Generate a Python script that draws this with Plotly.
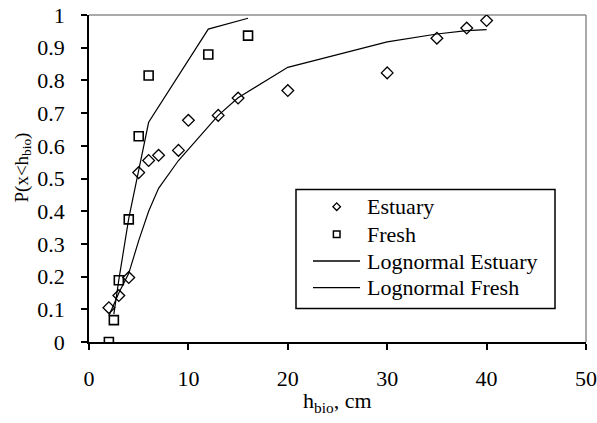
import plotly.graph_objects as go

# Observed data
est_x = [2, 3, 4, 5, 6, 7, 9, 10, 13, 15, 20, 30, 35, 38, 40]
est_y = [0.105, 0.142, 0.197, 0.518, 0.555, 0.571, 0.586, 0.678, 0.693, 0.746, 0.769, 0.823, 0.929, 0.960, 0.983]
fresh_x = [2, 2.5, 3, 4, 5, 6, 12, 16]
fresh_y = [0.0, 0.067, 0.189, 0.375, 0.629, 0.815, 0.879, 0.937]

# Fitted lognormal curves
logn_est_x = [2, 3, 4, 5, 6, 7, 9, 10, 13, 15, 20, 30, 35, 38, 40]
logn_est_y = [0.08, 0.15, 0.21, 0.31, 0.40, 0.47, 0.555, 0.59, 0.693, 0.747, 0.84, 0.918, 0.942, 0.952, 0.955]
logn_fresh_x = [2.5, 3, 4, 5, 6, 12, 16]
logn_fresh_y = [0.085, 0.19, 0.378, 0.53, 0.672, 0.957, 0.99]

series_names = ["Estuary", "Fresh", "Lognormal Estuary", "Lognormal Fresh"]

x_ticks = [0, 10, 20, 30, 40, 50]
y_ticks = [0, 0.1, 0.2, 0.3, 0.4, 0.5, 0.6, 0.7, 0.8, 0.9, 1]
y_tick_text = ["0", "0.1", "0.2", "0.3", "0.4", "0.5", "0.6", "0.7", "0.8", "0.9", "1"]

FONT = "Liberation Serif"
TXT = dict(family=FONT, size=22, color="black")

W, H = 597, 423
ML, MR, MT, MB = 89, 11, 15, 81
PW, PH = W - ML - MR, H - MT - MB


def px(x):
    return (x - ML) / PW


def py(y):
    return (H - MB - y) / PH


fig = go.Figure()
fig.add_trace(go.Scatter(x=est_x, y=est_y, mode="markers", name=series_names[0],
                         marker=dict(symbol="diamond-open", size=9, color="black",
                                     line=dict(width=1.3, color="black"))))
fig.add_trace(go.Scatter(x=fresh_x, y=fresh_y, mode="markers", name=series_names[1],
                         marker=dict(symbol="square-open", size=9, color="black",
                                     line=dict(width=1.6, color="black"))))
fig.add_trace(go.Scatter(x=logn_est_x, y=logn_est_y, mode="lines", name=series_names[2],
                         line=dict(color="black", width=1.2)))
fig.add_trace(go.Scatter(x=logn_fresh_x, y=logn_fresh_y, mode="lines", name=series_names[3],
                         line=dict(color="black", width=1.2)))

# ---- manual legend (layout only) ----
LEG_L, LEG_R, LEG_T, LEG_B = 296, 555, 189.5, 308.5
ROW_Y = [206.7, 234.3, 261.0, 287.7]
SYM_X = 336.7
LINE_X0, LINE_X1 = 313, 360
TEXT_X = 365

shapes = [
    dict(type="line", xref="paper", yref="paper", x0=0, x1=1, y0=1, y1=1,
         line=dict(color="#8c8c8c", width=1.5), layer="below"),
    dict(type="line", xref="paper", yref="paper", x0=1, x1=1, y0=0, y1=1,
         line=dict(color="#8c8c8c", width=1.5), layer="below"),
    dict(type="rect", xref="paper", yref="paper", x0=px(LEG_L), x1=px(LEG_R),
         y0=py(LEG_B), y1=py(LEG_T), line=dict(color="black", width=1.5),
         fillcolor="white", layer="above"),
]
# diamond symbol
d = 3.8
cy = ROW_Y[0]
shapes.append(dict(type="path", xref="paper", yref="paper",
                   path=f"M {px(SYM_X)},{py(cy - d)} L {px(SYM_X + d)},{py(cy)} "
                        f"L {px(SYM_X)},{py(cy + d)} L {px(SYM_X - d)},{py(cy)} Z",
                   line=dict(color="black", width=1.3), layer="above"))
# square symbol
s = 3.3
cy = ROW_Y[1]
shapes.append(dict(type="rect", xref="paper", yref="paper",
                   x0=px(SYM_X - s), x1=px(SYM_X + s), y0=py(cy + s), y1=py(cy - s),
                   line=dict(color="black", width=1.5), layer="above"))
for cy in ROW_Y[2:]:
    shapes.append(dict(type="line", xref="paper", yref="paper",
                       x0=px(LINE_X0), x1=px(LINE_X1), y0=py(cy), y1=py(cy),
                       line=dict(color="black", width=1.3), layer="above"))

annotations = [
    dict(text="h<sub>bio</sub>, cm", xref="paper", yref="paper",
         x=0.5, y=py(402), xanchor="center", yanchor="middle", showarrow=False,
         font=TXT),
    dict(text="P(x<h<sub>bio</sub>)", xref="paper", yref="paper",
         x=px(22), y=py(167.5), xanchor="center", yanchor="middle", showarrow=False,
         textangle=-90, font=dict(family=FONT, size=19, color="black")),
]
for name, cy in zip(series_names, ROW_Y):
    annotations.append(dict(text=name, xref="paper", yref="paper",
                            x=px(TEXT_X), y=py(cy), xanchor="left", yanchor="middle",
                            showarrow=False, font=TXT))

fig.update_layout(
    template="none",
    width=W, height=H,
    margin=dict(l=ML, r=MR, t=MT, b=MB, autoexpand=False),
    paper_bgcolor="white", plot_bgcolor="white",
    font=TXT,
    showlegend=False,
    xaxis=dict(range=[0, 50], tickmode="array", tickvals=x_ticks, automargin=False,
               tickfont=TXT,
               showgrid=False, zeroline=False, showline=True, linecolor="black", linewidth=1.5,
               ticks="outside", ticklen=6, tickwidth=1.5, tickcolor="black",
               ticklabelstandoff=10),
    yaxis=dict(range=[0, 1], tickmode="array", tickvals=y_ticks, ticktext=y_tick_text,
               automargin=False, tickfont=TXT,
               showgrid=False, zeroline=False, showline=True, linecolor="black", linewidth=1.5,
               ticks="outside", ticklen=6, tickwidth=1.5, tickcolor="black",
               ticklabelstandoff=12),
    annotations=annotations,
    shapes=shapes,
)

fig.write_html("out.html", post_script="document.body.style.margin='0';",
               config={"displayModeBar": False})
